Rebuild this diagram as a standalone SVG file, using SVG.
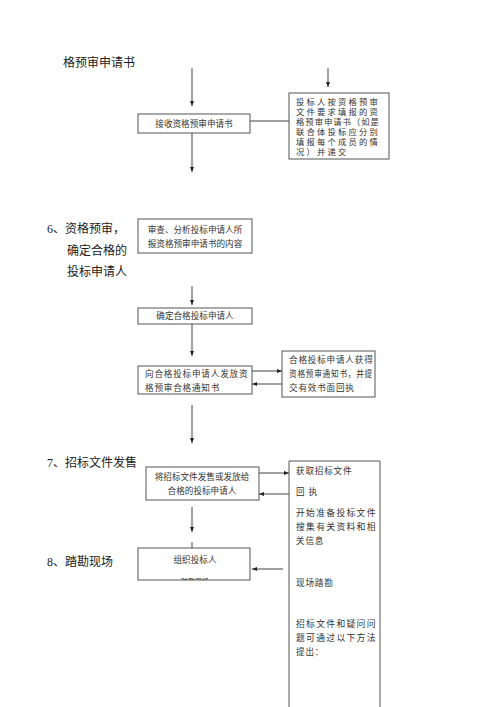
<svg xmlns="http://www.w3.org/2000/svg" width="500" height="707" viewBox="0 0 500 707">
<style>
.bx{fill:#fff;stroke:#555;stroke-width:1}
.ln{stroke:#444;stroke-width:1;fill:none}
.t{font-family:"Liberation Sans","Noto Sans CJK SC",sans-serif;fill:#333;font-size:8.6px}
.h{font-family:"Liberation Serif","Noto Sans CJK SC",serif;fill:#222;font-size:12px}
.s{font-family:"Liberation Sans","Noto Sans CJK SC",sans-serif;fill:#333;font-size:8.8px;letter-spacing:1.3px}
.p{font-family:"Liberation Sans","Noto Sans CJK SC",sans-serif;fill:#333;font-size:8.3px;letter-spacing:2.2px}
.r{font-family:"Liberation Sans","Noto Sans CJK SC",sans-serif;fill:#333;font-size:8.6px;letter-spacing:0.8px}
</style>
<defs>
<marker id="a" viewBox="0 0 10 10" refX="10" refY="5" markerWidth="5" markerHeight="5" orient="auto"><path d="M0,1 L10,5 L0,9 z" fill="#222"/></marker>
<clipPath id="cb"><rect x="138" y="548" width="112" height="32"/></clipPath>
</defs>
<g id="headings">
<text class="h" x="63" y="67">格预审申请书</text>
<text class="h" x="47" y="233">6、资格预审，</text>
<text class="h" x="67" y="255">确定合格的</text>
<text class="h" x="67" y="276">投标申请人</text>
<text class="h" x="47" y="467">7、招标文件发售</text>
<text class="h" x="47" y="566">8、踏勘现场</text>
</g>
<g id="connectors">
<line class="ln" x1="192" y1="68" x2="192" y2="106" marker-end="url(#a)"/>
<line class="ln" x1="328" y1="68" x2="328" y2="87" marker-end="url(#a)"/>
<line class="ln" x1="250" y1="121" x2="289" y2="121"/>
<line class="ln" x1="192" y1="133" x2="192" y2="172" marker-end="url(#a)"/>
<line class="ln" x1="192" y1="286" x2="192" y2="305" marker-end="url(#a)"/>
<line class="ln" x1="192" y1="324" x2="192" y2="356" marker-end="url(#a)"/>
<line class="ln" x1="252" y1="371" x2="282" y2="371" marker-end="url(#a)"/>
<line class="ln" x1="282" y1="384" x2="252" y2="384" marker-end="url(#a)"/>
<line class="ln" x1="192" y1="405" x2="192" y2="443" marker-end="url(#a)"/>
<line class="ln" x1="259" y1="473" x2="289" y2="473" marker-end="url(#a)"/>
<line class="ln" x1="289" y1="494" x2="259" y2="494" marker-end="url(#a)"/>
<line class="ln" x1="192" y1="507" x2="192" y2="532" marker-end="url(#a)"/>
<line class="ln" x1="192" y1="542" x2="192" y2="548"/>
<line class="ln" x1="283" y1="569" x2="252" y2="569" marker-end="url(#a)"/>
</g>
<g id="n1">
<rect class="bx" x="138" y="114" width="112" height="19"/>
<text class="t" x="194" y="127" text-anchor="middle">接收资格预审申请书</text>
</g>
<g id="n2">
<rect class="bx" x="289" y="93" width="100" height="66"/>
<text class="p" x="296" y="105">投标人按资格预审</text>
<text class="p" x="296" y="115">文件要求填报的资</text>
<text class="p" x="296" y="125" textLength="85" lengthAdjust="spacing">格预审申请书（如是</text>
<text class="p" x="296" y="135">联合体投标应分别</text>
<text class="p" x="296" y="145">填报每个成员的情</text>
<text class="p" x="296" y="155">况）并递交</text>
</g>
<g id="n3">
<rect class="bx" x="138" y="219" width="114" height="34"/>
<text class="t" x="195" y="233" text-anchor="middle">审查、分析投标申请人所</text>
<text class="t" x="195" y="247" text-anchor="middle">报资格预审申请书的内容</text>
</g>
<g id="n4">
<rect class="bx" x="138" y="308" width="114" height="16"/>
<text class="t" x="195" y="319" text-anchor="middle">确定合格投标申请人</text>
</g>
<g id="n5">
<rect class="bx" x="138" y="366" width="114" height="28"/>
<text class="r" x="145" y="377">向合格投标申请人发放资</text>
<text class="r" x="145" y="391">格预审合格通知书</text>
</g>
<g id="n6">
<rect class="bx" x="282" y="351" width="93" height="46"/>
<text class="r" x="289" y="363">合格投标申请人获得</text>
<text class="r" x="289" y="377" textLength="84" lengthAdjust="spacingAndGlyphs">资格预审通知书，并提</text>
<text class="r" x="289" y="391">交有效书面回执</text>
</g>
<g id="n7">
<rect class="bx" x="146" y="467" width="113" height="33"/>
<text class="t" x="202" y="480" text-anchor="middle">将招标文件发售或发放给</text>
<text class="t" x="202" y="494" text-anchor="middle">合格的投标申请人</text>
</g>
<g id="n8">
<path class="ln" d="M289,707 L289,461 L380,461 L380,707" style="stroke:#555"/>
<text class="r" x="296" y="474">获取招标文件</text>
<text class="r" x="296" y="495">回  执</text>
<text class="s" x="296" y="516">开始准备投标文件</text>
<text class="s" x="296" y="530">搜集有关资料和相</text>
<text class="r" x="296" y="544">关信息</text>
<text class="r" x="296" y="586">现场踏勘</text>
<text class="s" x="296" y="627">招标文件和疑问问</text>
<text class="s" x="296" y="641">题可通过以下方法</text>
<text class="r" x="296" y="655">提出：</text>
</g>
<g id="n9">
<rect class="bx" x="138" y="548" width="112" height="32"/>
<text class="t" x="195" y="563" text-anchor="middle">组织投标人</text>
<text class="t" x="195" y="584" text-anchor="middle" clip-path="url(#cb)" style="font-size:7px">踏勘现场</text>
</g>
</svg>
